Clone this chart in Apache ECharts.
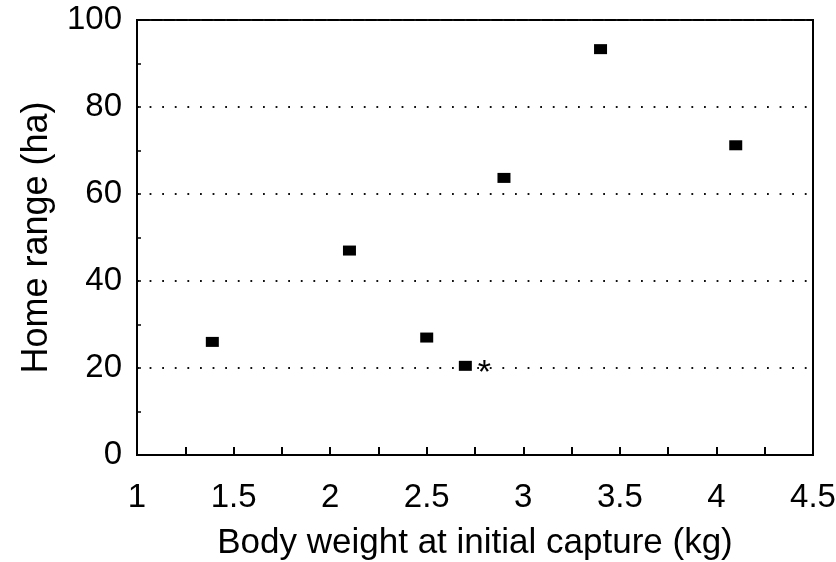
<!DOCTYPE html>
<html>
<head>
<meta charset="utf-8">
<script src="https://cdn.jsdelivr.net/npm/echarts@6/dist/echarts.min.js"></script>
<style>html,body{margin:0;padding:0;background:#fff;}#c{width:836px;height:562px;}</style>
</head>
<body>
<div id="c"></div>
<script>
var bodyWeight = [1.39, 2.1, 2.5, 2.7, 2.9, 3.4, 4.1];
var homeRange = [26, 47, 27, 20.5, 63.7, 93.3, 71.2];
var flagged = [false, false, false, true, false, false, false];
var xTitle = 'Body weight at initial capture (kg)';
var yTitle = 'Home range (ha)';

var font = 'Liberation Sans';
var data = bodyWeight.map(function (x, i) {
  var item = { value: [x, homeRange[i]] };
  if (flagged[i]) {
    item.label = {
      show: true, formatter: '*', position: 'right', distance: 6,
      fontSize: 34, color: '#000', fontFamily: font, offset: [0, 8]
    };
  }
  return item;
});

var chart = echarts.init(document.getElementById('c'), null, { renderer: 'canvas' });
chart.setOption({
  animation: false,
  backgroundColor: '#fff',
  grid: { left: 137, top: 20, right: 23, bottom: 107, show: true, borderColor: '#000', borderWidth: 2,
          backgroundColor: 'transparent', containLabel: false, outerBoundsMode: 'none' },
  xAxis: {
    type: 'value', min: 1, max: 4.5, interval: 0.5,
    name: xTitle, nameLocation: 'middle', nameGap: 71,
    nameTextStyle: { fontSize: 35, color: '#000', fontFamily: font },
    axisLine: { show: true, lineStyle: { color: '#000', width: 2 } },
    axisTick: { show: true, inside: true, length: 8, lineStyle: { color: '#000', width: 2 } },
    minorTick: { show: true, splitNumber: 2, length: 8, lineStyle: { color: '#000', width: 2 } },
    axisLabel: { fontSize: 33, color: '#000', fontFamily: font, margin: 26, formatter: function (v) { return String(v); } },
    splitLine: { show: false }
  },
  yAxis: {
    type: 'value', min: 0, max: 100, interval: 20,
    name: yTitle, nameLocation: 'middle', nameGap: 82, nameRotate: 90,
    nameTextStyle: { fontSize: 36, color: '#000', fontFamily: font },
    axisLine: { show: true, lineStyle: { color: '#000', width: 2 } },
    axisTick: { show: true, inside: true, length: 4, lineStyle: { color: '#000', width: 1.5 } },
    minorTick: { show: true, splitNumber: 2, length: 4, lineStyle: { color: '#000', width: 1.5 } },
    axisLabel: { fontSize: 33, color: '#000', fontFamily: font, margin: 15 },
    splitLine: { show: true, lineStyle: { color: '#111', width: 1.8, type: [1.8, 10.8] } }
  },
  series: [{
    type: 'scatter',
    symbol: 'rect',
    symbolSize: [13, 10],
    itemStyle: { color: '#000', opacity: 1 },
    data: data
  }]
});
</script>
</body>
</html>
